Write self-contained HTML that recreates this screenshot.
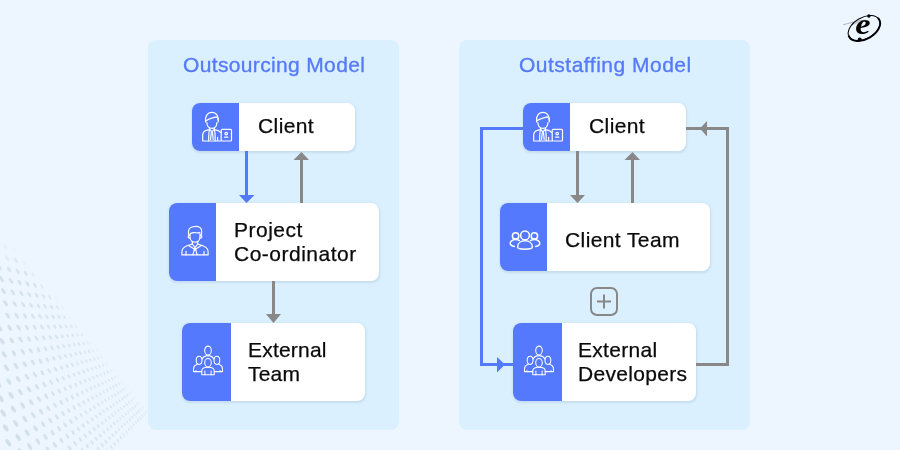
<!DOCTYPE html>
<html><head><meta charset="utf-8">
<style>
*{margin:0;padding:0;box-sizing:border-box}
html,body{width:900px;height:450px;overflow:hidden;background:#EDF6FE;font-family:"Liberation Sans",sans-serif}
.panel{position:absolute;background:#DAF0FF;border-radius:8px}
.box{position:absolute;background:#fff;border-radius:8px;box-shadow:0.5px 1.5px 2px rgba(30,60,100,0.08),0 0 4px rgba(30,60,100,0.06);overflow:hidden}
.box .blue{position:absolute;left:0;top:0;bottom:0;background:#5479FC}
.t{position:absolute;will-change:transform;font-size:21px;line-height:24px;color:#0A0A0A;-webkit-text-stroke:0.25px #0A0A0A;white-space:nowrap}
.title{position:absolute;will-change:transform;font-size:21px;line-height:24px;color:#567AF8;-webkit-text-stroke:0.35px #567AF8;white-space:nowrap}
svg{position:absolute;left:0;top:0}
</style></head><body>
<svg width="900" height="450" style="position:absolute;left:0;top:0"><!-- dots --><g fill="#CCDBE7"><ellipse cx="104.2" cy="454.7" rx="2.3" ry="1.1" transform="rotate(57 104.2 454.7)" opacity="0.62"/><ellipse cx="107.9" cy="451.0" rx="2.2" ry="1.0" transform="rotate(57 107.9 451.0)" opacity="0.60"/><ellipse cx="111.5" cy="447.4" rx="2.1" ry="1.0" transform="rotate(57 111.5 447.4)" opacity="0.59"/><ellipse cx="114.8" cy="444.0" rx="2.0" ry="1.0" transform="rotate(57 114.8 444.0)" opacity="0.58"/><ellipse cx="117.9" cy="440.8" rx="2.0" ry="0.9" transform="rotate(57 117.9 440.8)" opacity="0.57"/><ellipse cx="120.9" cy="437.8" rx="1.9" ry="0.9" transform="rotate(57 120.9 437.8)" opacity="0.56"/><ellipse cx="123.8" cy="434.9" rx="1.8" ry="0.8" transform="rotate(57 123.8 434.9)" opacity="0.55"/><ellipse cx="126.5" cy="432.2" rx="1.7" ry="0.8" transform="rotate(57 126.5 432.2)" opacity="0.54"/><ellipse cx="129.0" cy="429.5" rx="1.7" ry="0.8" transform="rotate(57 129.0 429.5)" opacity="0.53"/><ellipse cx="131.5" cy="427.1" rx="1.6" ry="0.8" transform="rotate(57 131.5 427.1)" opacity="0.52"/><ellipse cx="133.8" cy="424.7" rx="1.6" ry="0.8" transform="rotate(57 133.8 424.7)" opacity="0.51"/><ellipse cx="136.1" cy="422.4" rx="1.6" ry="0.8" transform="rotate(57 136.1 422.4)" opacity="0.51"/><ellipse cx="138.2" cy="420.2" rx="1.6" ry="0.8" transform="rotate(57 138.2 420.2)" opacity="0.50"/><ellipse cx="140.3" cy="418.1" rx="1.6" ry="0.8" transform="rotate(57 140.3 418.1)" opacity="0.49"/><ellipse cx="142.2" cy="416.1" rx="1.6" ry="0.8" transform="rotate(57 142.2 416.1)" opacity="0.49"/><ellipse cx="144.1" cy="414.2" rx="1.6" ry="0.8" transform="rotate(57 144.1 414.2)" opacity="0.40"/><ellipse cx="145.9" cy="412.4" rx="1.6" ry="0.8" transform="rotate(57 145.9 412.4)" opacity="0.24"/><ellipse cx="147.7" cy="410.6" rx="1.6" ry="0.8" transform="rotate(57 147.7 410.6)" opacity="0.09"/><ellipse cx="94.0" cy="452.7" rx="2.5" ry="1.2" transform="rotate(57 94.0 452.7)" opacity="0.64"/><ellipse cx="98.3" cy="448.8" rx="2.4" ry="1.1" transform="rotate(57 98.3 448.8)" opacity="0.62"/><ellipse cx="102.2" cy="445.1" rx="2.3" ry="1.1" transform="rotate(57 102.2 445.1)" opacity="0.61"/><ellipse cx="106.0" cy="441.6" rx="2.2" ry="1.0" transform="rotate(57 106.0 441.6)" opacity="0.60"/><ellipse cx="109.6" cy="438.3" rx="2.1" ry="1.0" transform="rotate(57 109.6 438.3)" opacity="0.58"/><ellipse cx="112.9" cy="435.2" rx="2.0" ry="0.9" transform="rotate(57 112.9 435.2)" opacity="0.57"/><ellipse cx="116.1" cy="432.2" rx="1.9" ry="0.9" transform="rotate(57 116.1 432.2)" opacity="0.56"/><ellipse cx="119.1" cy="429.4" rx="1.8" ry="0.9" transform="rotate(57 119.1 429.4)" opacity="0.55"/><ellipse cx="122.0" cy="426.7" rx="1.8" ry="0.8" transform="rotate(57 122.0 426.7)" opacity="0.54"/><ellipse cx="124.7" cy="424.2" rx="1.7" ry="0.8" transform="rotate(57 124.7 424.2)" opacity="0.53"/><ellipse cx="127.3" cy="421.8" rx="1.7" ry="0.8" transform="rotate(57 127.3 421.8)" opacity="0.53"/><ellipse cx="129.8" cy="419.5" rx="1.6" ry="0.8" transform="rotate(57 129.8 419.5)" opacity="0.52"/><ellipse cx="132.2" cy="417.3" rx="1.6" ry="0.8" transform="rotate(57 132.2 417.3)" opacity="0.51"/><ellipse cx="134.5" cy="415.2" rx="1.6" ry="0.8" transform="rotate(57 134.5 415.2)" opacity="0.50"/><ellipse cx="136.6" cy="413.2" rx="1.6" ry="0.8" transform="rotate(57 136.6 413.2)" opacity="0.50"/><ellipse cx="138.7" cy="411.2" rx="1.6" ry="0.8" transform="rotate(57 138.7 411.2)" opacity="0.49"/><ellipse cx="140.7" cy="409.4" rx="1.6" ry="0.8" transform="rotate(57 140.7 409.4)" opacity="0.37"/><ellipse cx="142.6" cy="407.6" rx="1.6" ry="0.8" transform="rotate(57 142.6 407.6)" opacity="0.21"/><ellipse cx="144.5" cy="405.9" rx="1.6" ry="0.8" transform="rotate(57 144.5 405.9)" opacity="0.06"/><ellipse cx="77.4" cy="454.8" rx="2.8" ry="1.3" transform="rotate(57 77.4 454.8)" opacity="0.68"/><ellipse cx="82.6" cy="450.4" rx="2.7" ry="1.3" transform="rotate(57 82.6 450.4)" opacity="0.67"/><ellipse cx="87.4" cy="446.3" rx="2.5" ry="1.2" transform="rotate(57 87.4 446.3)" opacity="0.65"/><ellipse cx="92.0" cy="442.5" rx="2.4" ry="1.1" transform="rotate(57 92.0 442.5)" opacity="0.63"/><ellipse cx="96.2" cy="438.9" rx="2.3" ry="1.1" transform="rotate(57 96.2 438.9)" opacity="0.62"/><ellipse cx="100.3" cy="435.5" rx="2.2" ry="1.0" transform="rotate(57 100.3 435.5)" opacity="0.60"/><ellipse cx="104.1" cy="432.3" rx="2.1" ry="1.0" transform="rotate(57 104.1 432.3)" opacity="0.59"/><ellipse cx="107.7" cy="429.3" rx="2.0" ry="1.0" transform="rotate(57 107.7 429.3)" opacity="0.58"/><ellipse cx="111.1" cy="426.4" rx="2.0" ry="0.9" transform="rotate(57 111.1 426.4)" opacity="0.57"/><ellipse cx="114.3" cy="423.7" rx="1.9" ry="0.9" transform="rotate(57 114.3 423.7)" opacity="0.56"/><ellipse cx="117.4" cy="421.1" rx="1.8" ry="0.9" transform="rotate(57 117.4 421.1)" opacity="0.55"/><ellipse cx="120.3" cy="418.6" rx="1.7" ry="0.8" transform="rotate(57 120.3 418.6)" opacity="0.54"/><ellipse cx="123.0" cy="416.3" rx="1.7" ry="0.8" transform="rotate(57 123.0 416.3)" opacity="0.53"/><ellipse cx="125.7" cy="414.1" rx="1.6" ry="0.8" transform="rotate(57 125.7 414.1)" opacity="0.52"/><ellipse cx="128.2" cy="412.0" rx="1.6" ry="0.8" transform="rotate(57 128.2 412.0)" opacity="0.51"/><ellipse cx="130.6" cy="409.9" rx="1.6" ry="0.8" transform="rotate(57 130.6 409.9)" opacity="0.51"/><ellipse cx="132.9" cy="408.0" rx="1.6" ry="0.8" transform="rotate(57 132.9 408.0)" opacity="0.50"/><ellipse cx="135.1" cy="406.2" rx="1.6" ry="0.8" transform="rotate(57 135.1 406.2)" opacity="0.49"/><ellipse cx="137.2" cy="404.4" rx="1.6" ry="0.8" transform="rotate(57 137.2 404.4)" opacity="0.35"/><ellipse cx="139.2" cy="402.7" rx="1.6" ry="0.8" transform="rotate(57 139.2 402.7)" opacity="0.19"/><ellipse cx="63.6" cy="452.4" rx="3.1" ry="1.4" transform="rotate(57 63.6 452.4)" opacity="0.72"/><ellipse cx="69.6" cy="447.8" rx="2.9" ry="1.4" transform="rotate(57 69.6 447.8)" opacity="0.70"/><ellipse cx="75.2" cy="443.6" rx="2.8" ry="1.3" transform="rotate(57 75.2 443.6)" opacity="0.68"/><ellipse cx="80.4" cy="439.6" rx="2.6" ry="1.2" transform="rotate(57 80.4 439.6)" opacity="0.66"/><ellipse cx="85.3" cy="435.9" rx="2.5" ry="1.2" transform="rotate(57 85.3 435.9)" opacity="0.64"/><ellipse cx="89.9" cy="432.4" rx="2.4" ry="1.1" transform="rotate(57 89.9 432.4)" opacity="0.63"/><ellipse cx="94.3" cy="429.1" rx="2.3" ry="1.1" transform="rotate(57 94.3 429.1)" opacity="0.61"/><ellipse cx="98.3" cy="426.0" rx="2.2" ry="1.0" transform="rotate(57 98.3 426.0)" opacity="0.60"/><ellipse cx="102.2" cy="423.1" rx="2.1" ry="1.0" transform="rotate(57 102.2 423.1)" opacity="0.59"/><ellipse cx="105.8" cy="420.3" rx="2.0" ry="0.9" transform="rotate(57 105.8 420.3)" opacity="0.57"/><ellipse cx="109.2" cy="417.7" rx="1.9" ry="0.9" transform="rotate(57 109.2 417.7)" opacity="0.56"/><ellipse cx="112.5" cy="415.2" rx="1.9" ry="0.9" transform="rotate(57 112.5 415.2)" opacity="0.55"/><ellipse cx="115.6" cy="412.8" rx="1.8" ry="0.8" transform="rotate(57 115.6 412.8)" opacity="0.54"/><ellipse cx="118.5" cy="410.6" rx="1.7" ry="0.8" transform="rotate(57 118.5 410.6)" opacity="0.53"/><ellipse cx="121.3" cy="408.5" rx="1.7" ry="0.8" transform="rotate(57 121.3 408.5)" opacity="0.53"/><ellipse cx="124.0" cy="406.4" rx="1.6" ry="0.8" transform="rotate(57 124.0 406.4)" opacity="0.52"/><ellipse cx="126.6" cy="404.5" rx="1.6" ry="0.8" transform="rotate(57 126.6 404.5)" opacity="0.51"/><ellipse cx="129.0" cy="402.7" rx="1.6" ry="0.8" transform="rotate(57 129.0 402.7)" opacity="0.50"/><ellipse cx="131.3" cy="400.9" rx="1.6" ry="0.8" transform="rotate(57 131.3 400.9)" opacity="0.50"/><ellipse cx="133.5" cy="399.2" rx="1.6" ry="0.8" transform="rotate(57 133.5 399.2)" opacity="0.32"/><ellipse cx="135.7" cy="397.6" rx="1.6" ry="0.8" transform="rotate(57 135.7 397.6)" opacity="0.16"/><ellipse cx="40.3" cy="454.8" rx="3.6" ry="1.7" transform="rotate(57 40.3 454.8)" opacity="0.79"/><ellipse cx="47.9" cy="449.6" rx="3.4" ry="1.6" transform="rotate(57 47.9 449.6)" opacity="0.76"/><ellipse cx="54.9" cy="444.9" rx="3.2" ry="1.5" transform="rotate(57 54.9 444.9)" opacity="0.73"/><ellipse cx="61.4" cy="440.4" rx="3.0" ry="1.4" transform="rotate(57 61.4 440.4)" opacity="0.71"/><ellipse cx="67.4" cy="436.3" rx="2.8" ry="1.3" transform="rotate(57 67.4 436.3)" opacity="0.69"/><ellipse cx="73.1" cy="432.5" rx="2.7" ry="1.3" transform="rotate(57 73.1 432.5)" opacity="0.67"/><ellipse cx="78.3" cy="428.9" rx="2.6" ry="1.2" transform="rotate(57 78.3 428.9)" opacity="0.65"/><ellipse cx="83.3" cy="425.5" rx="2.5" ry="1.2" transform="rotate(57 83.3 425.5)" opacity="0.64"/><ellipse cx="87.9" cy="422.3" rx="2.3" ry="1.1" transform="rotate(57 87.9 422.3)" opacity="0.62"/><ellipse cx="92.3" cy="419.4" rx="2.2" ry="1.1" transform="rotate(57 92.3 419.4)" opacity="0.61"/><ellipse cx="96.4" cy="416.5" rx="2.1" ry="1.0" transform="rotate(57 96.4 416.5)" opacity="0.59"/><ellipse cx="100.3" cy="413.9" rx="2.1" ry="1.0" transform="rotate(57 100.3 413.9)" opacity="0.58"/><ellipse cx="103.9" cy="411.4" rx="2.0" ry="0.9" transform="rotate(57 103.9 411.4)" opacity="0.57"/><ellipse cx="107.4" cy="409.0" rx="1.9" ry="0.9" transform="rotate(57 107.4 409.0)" opacity="0.56"/><ellipse cx="110.7" cy="406.8" rx="1.8" ry="0.9" transform="rotate(57 110.7 406.8)" opacity="0.55"/><ellipse cx="113.8" cy="404.6" rx="1.8" ry="0.8" transform="rotate(57 113.8 404.6)" opacity="0.54"/><ellipse cx="116.8" cy="402.6" rx="1.7" ry="0.8" transform="rotate(57 116.8 402.6)" opacity="0.53"/><ellipse cx="119.6" cy="400.7" rx="1.6" ry="0.8" transform="rotate(57 119.6 400.7)" opacity="0.52"/><ellipse cx="122.4" cy="398.8" rx="1.6" ry="0.8" transform="rotate(57 122.4 398.8)" opacity="0.51"/><ellipse cx="124.9" cy="397.1" rx="1.6" ry="0.8" transform="rotate(57 124.9 397.1)" opacity="0.51"/><ellipse cx="127.4" cy="395.4" rx="1.6" ry="0.8" transform="rotate(57 127.4 395.4)" opacity="0.48"/><ellipse cx="129.7" cy="393.8" rx="1.6" ry="0.8" transform="rotate(57 129.7 393.8)" opacity="0.30"/><ellipse cx="132.0" cy="392.3" rx="1.6" ry="0.8" transform="rotate(57 132.0 392.3)" opacity="0.13"/><ellipse cx="20.6" cy="451.9" rx="4.0" ry="1.9" transform="rotate(57 20.6 451.9)" opacity="0.84"/><ellipse cx="29.6" cy="446.5" rx="3.7" ry="1.7" transform="rotate(57 29.6 446.5)" opacity="0.81"/><ellipse cx="37.9" cy="441.5" rx="3.5" ry="1.6" transform="rotate(57 37.9 441.5)" opacity="0.78"/><ellipse cx="45.5" cy="436.9" rx="3.3" ry="1.5" transform="rotate(57 45.5 436.9)" opacity="0.75"/><ellipse cx="52.6" cy="432.6" rx="3.1" ry="1.5" transform="rotate(57 52.6 432.6)" opacity="0.73"/><ellipse cx="59.1" cy="428.6" rx="3.0" ry="1.4" transform="rotate(57 59.1 428.6)" opacity="0.70"/><ellipse cx="65.2" cy="424.9" rx="2.8" ry="1.3" transform="rotate(57 65.2 424.9)" opacity="0.68"/><ellipse cx="70.9" cy="421.5" rx="2.7" ry="1.2" transform="rotate(57 70.9 421.5)" opacity="0.66"/><ellipse cx="76.2" cy="418.2" rx="2.5" ry="1.2" transform="rotate(57 76.2 418.2)" opacity="0.65"/><ellipse cx="81.2" cy="415.2" rx="2.4" ry="1.1" transform="rotate(57 81.2 415.2)" opacity="0.63"/><ellipse cx="85.9" cy="412.4" rx="2.3" ry="1.1" transform="rotate(57 85.9 412.4)" opacity="0.62"/><ellipse cx="90.3" cy="409.7" rx="2.2" ry="1.0" transform="rotate(57 90.3 409.7)" opacity="0.60"/><ellipse cx="94.5" cy="407.2" rx="2.1" ry="1.0" transform="rotate(57 94.5 407.2)" opacity="0.59"/><ellipse cx="98.4" cy="404.8" rx="2.0" ry="0.9" transform="rotate(57 98.4 404.8)" opacity="0.58"/><ellipse cx="102.1" cy="402.6" rx="1.9" ry="0.9" transform="rotate(57 102.1 402.6)" opacity="0.57"/><ellipse cx="105.6" cy="400.4" rx="1.9" ry="0.9" transform="rotate(57 105.6 400.4)" opacity="0.55"/><ellipse cx="108.9" cy="398.4" rx="1.8" ry="0.8" transform="rotate(57 108.9 398.4)" opacity="0.55"/><ellipse cx="112.1" cy="396.5" rx="1.7" ry="0.8" transform="rotate(57 112.1 396.5)" opacity="0.54"/><ellipse cx="115.1" cy="394.7" rx="1.7" ry="0.8" transform="rotate(57 115.1 394.7)" opacity="0.53"/><ellipse cx="118.0" cy="392.9" rx="1.6" ry="0.8" transform="rotate(57 118.0 392.9)" opacity="0.52"/><ellipse cx="120.7" cy="391.3" rx="1.6" ry="0.8" transform="rotate(57 120.7 391.3)" opacity="0.51"/><ellipse cx="123.3" cy="389.7" rx="1.6" ry="0.8" transform="rotate(57 123.3 389.7)" opacity="0.45"/><ellipse cx="125.8" cy="388.2" rx="1.6" ry="0.8" transform="rotate(57 125.8 388.2)" opacity="0.27"/><ellipse cx="128.2" cy="386.7" rx="1.6" ry="0.8" transform="rotate(57 128.2 386.7)" opacity="0.09"/><ellipse cx="-2.5" cy="448.6" rx="4.2" ry="2.0" transform="rotate(57 -2.5 448.6)" opacity="0.91"/><ellipse cx="8.3" cy="442.8" rx="4.2" ry="1.9" transform="rotate(57 8.3 442.8)" opacity="0.87"/><ellipse cx="18.2" cy="437.5" rx="3.9" ry="1.8" transform="rotate(57 18.2 437.5)" opacity="0.83"/><ellipse cx="27.2" cy="432.7" rx="3.7" ry="1.7" transform="rotate(57 27.2 432.7)" opacity="0.80"/><ellipse cx="35.5" cy="428.3" rx="3.4" ry="1.6" transform="rotate(57 35.5 428.3)" opacity="0.77"/><ellipse cx="43.2" cy="424.2" rx="3.2" ry="1.5" transform="rotate(57 43.2 424.2)" opacity="0.74"/><ellipse cx="50.3" cy="420.4" rx="3.1" ry="1.4" transform="rotate(57 50.3 420.4)" opacity="0.72"/><ellipse cx="56.9" cy="416.9" rx="2.9" ry="1.4" transform="rotate(57 56.9 416.9)" opacity="0.70"/><ellipse cx="63.1" cy="413.6" rx="2.8" ry="1.3" transform="rotate(57 63.1 413.6)" opacity="0.68"/><ellipse cx="68.8" cy="410.6" rx="2.6" ry="1.2" transform="rotate(57 68.8 410.6)" opacity="0.66"/><ellipse cx="74.2" cy="407.7" rx="2.5" ry="1.2" transform="rotate(57 74.2 407.7)" opacity="0.64"/><ellipse cx="79.2" cy="405.0" rx="2.4" ry="1.1" transform="rotate(57 79.2 405.0)" opacity="0.62"/><ellipse cx="83.9" cy="402.5" rx="2.3" ry="1.1" transform="rotate(57 83.9 402.5)" opacity="0.61"/><ellipse cx="88.4" cy="400.1" rx="2.2" ry="1.0" transform="rotate(57 88.4 400.1)" opacity="0.60"/><ellipse cx="92.6" cy="397.9" rx="2.1" ry="1.0" transform="rotate(57 92.6 397.9)" opacity="0.58"/><ellipse cx="96.5" cy="395.8" rx="2.0" ry="0.9" transform="rotate(57 96.5 395.8)" opacity="0.57"/><ellipse cx="100.3" cy="393.8" rx="1.9" ry="0.9" transform="rotate(57 100.3 393.8)" opacity="0.56"/><ellipse cx="103.8" cy="391.9" rx="1.8" ry="0.9" transform="rotate(57 103.8 391.9)" opacity="0.55"/><ellipse cx="107.2" cy="390.1" rx="1.8" ry="0.8" transform="rotate(57 107.2 390.1)" opacity="0.54"/><ellipse cx="110.4" cy="388.4" rx="1.7" ry="0.8" transform="rotate(57 110.4 388.4)" opacity="0.53"/><ellipse cx="113.4" cy="386.8" rx="1.6" ry="0.8" transform="rotate(57 113.4 386.8)" opacity="0.52"/><ellipse cx="116.3" cy="385.2" rx="1.6" ry="0.8" transform="rotate(57 116.3 385.2)" opacity="0.52"/><ellipse cx="119.1" cy="383.8" rx="1.6" ry="0.8" transform="rotate(57 119.1 383.8)" opacity="0.42"/><ellipse cx="121.7" cy="382.4" rx="1.6" ry="0.8" transform="rotate(57 121.7 382.4)" opacity="0.24"/><ellipse cx="124.2" cy="381.0" rx="1.6" ry="0.8" transform="rotate(57 124.2 381.0)" opacity="0.06"/><ellipse cx="-5.1" cy="432.9" rx="4.2" ry="2.0" transform="rotate(57 -5.1 432.9)" opacity="0.90"/><ellipse cx="5.8" cy="427.9" rx="4.1" ry="1.9" transform="rotate(57 5.8 427.9)" opacity="0.86"/><ellipse cx="15.8" cy="423.3" rx="3.8" ry="1.8" transform="rotate(57 15.8 423.3)" opacity="0.82"/><ellipse cx="24.9" cy="419.1" rx="3.6" ry="1.7" transform="rotate(57 24.9 419.1)" opacity="0.79"/><ellipse cx="33.3" cy="415.2" rx="3.4" ry="1.6" transform="rotate(57 33.3 415.2)" opacity="0.76"/><ellipse cx="41.1" cy="411.6" rx="3.2" ry="1.5" transform="rotate(57 41.1 411.6)" opacity="0.74"/><ellipse cx="48.3" cy="408.3" rx="3.0" ry="1.4" transform="rotate(57 48.3 408.3)" opacity="0.71"/><ellipse cx="55.0" cy="405.2" rx="2.9" ry="1.3" transform="rotate(57 55.0 405.2)" opacity="0.69"/><ellipse cx="61.2" cy="402.3" rx="2.7" ry="1.3" transform="rotate(57 61.2 402.3)" opacity="0.67"/><ellipse cx="67.0" cy="399.6" rx="2.6" ry="1.2" transform="rotate(57 67.0 399.6)" opacity="0.65"/><ellipse cx="72.4" cy="397.1" rx="2.5" ry="1.2" transform="rotate(57 72.4 397.1)" opacity="0.64"/><ellipse cx="77.5" cy="394.8" rx="2.3" ry="1.1" transform="rotate(57 77.5 394.8)" opacity="0.62"/><ellipse cx="82.3" cy="392.6" rx="2.2" ry="1.0" transform="rotate(57 82.3 392.6)" opacity="0.61"/><ellipse cx="86.8" cy="390.5" rx="2.1" ry="1.0" transform="rotate(57 86.8 390.5)" opacity="0.59"/><ellipse cx="91.0" cy="388.5" rx="2.1" ry="1.0" transform="rotate(57 91.0 388.5)" opacity="0.58"/><ellipse cx="95.0" cy="386.7" rx="2.0" ry="0.9" transform="rotate(57 95.0 386.7)" opacity="0.57"/><ellipse cx="98.8" cy="384.9" rx="1.9" ry="0.9" transform="rotate(57 98.8 384.9)" opacity="0.56"/><ellipse cx="102.4" cy="383.3" rx="1.8" ry="0.9" transform="rotate(57 102.4 383.3)" opacity="0.55"/><ellipse cx="105.8" cy="381.7" rx="1.7" ry="0.8" transform="rotate(57 105.8 381.7)" opacity="0.54"/><ellipse cx="109.0" cy="380.2" rx="1.7" ry="0.8" transform="rotate(57 109.0 380.2)" opacity="0.53"/><ellipse cx="112.1" cy="378.8" rx="1.6" ry="0.8" transform="rotate(57 112.1 378.8)" opacity="0.52"/><ellipse cx="115.0" cy="377.4" rx="1.6" ry="0.8" transform="rotate(57 115.0 377.4)" opacity="0.37"/><ellipse cx="117.8" cy="376.2" rx="1.6" ry="0.8" transform="rotate(57 117.8 376.2)" opacity="0.18"/><ellipse cx="3.3" cy="413.2" rx="4.0" ry="1.9" transform="rotate(57 3.3 413.2)" opacity="0.85"/><ellipse cx="13.4" cy="409.2" rx="3.8" ry="1.8" transform="rotate(57 13.4 409.2)" opacity="0.82"/><ellipse cx="22.7" cy="405.6" rx="3.6" ry="1.7" transform="rotate(57 22.7 405.6)" opacity="0.79"/><ellipse cx="31.2" cy="402.2" rx="3.3" ry="1.6" transform="rotate(57 31.2 402.2)" opacity="0.76"/><ellipse cx="39.0" cy="399.1" rx="3.2" ry="1.5" transform="rotate(57 39.0 399.1)" opacity="0.73"/><ellipse cx="46.3" cy="396.3" rx="3.0" ry="1.4" transform="rotate(57 46.3 396.3)" opacity="0.71"/><ellipse cx="53.0" cy="393.6" rx="2.8" ry="1.3" transform="rotate(57 53.0 393.6)" opacity="0.69"/><ellipse cx="59.3" cy="391.1" rx="2.7" ry="1.3" transform="rotate(57 59.3 391.1)" opacity="0.67"/><ellipse cx="65.2" cy="388.8" rx="2.5" ry="1.2" transform="rotate(57 65.2 388.8)" opacity="0.65"/><ellipse cx="70.6" cy="386.7" rx="2.4" ry="1.1" transform="rotate(57 70.6 386.7)" opacity="0.63"/><ellipse cx="75.8" cy="384.7" rx="2.3" ry="1.1" transform="rotate(57 75.8 384.7)" opacity="0.62"/><ellipse cx="80.6" cy="382.8" rx="2.2" ry="1.0" transform="rotate(57 80.6 382.8)" opacity="0.60"/><ellipse cx="85.2" cy="381.0" rx="2.1" ry="1.0" transform="rotate(57 85.2 381.0)" opacity="0.59"/><ellipse cx="89.4" cy="379.3" rx="2.0" ry="0.9" transform="rotate(57 89.4 379.3)" opacity="0.58"/><ellipse cx="93.5" cy="377.7" rx="1.9" ry="0.9" transform="rotate(57 93.5 377.7)" opacity="0.57"/><ellipse cx="97.3" cy="376.2" rx="1.9" ry="0.9" transform="rotate(57 97.3 376.2)" opacity="0.56"/><ellipse cx="100.9" cy="374.8" rx="1.8" ry="0.8" transform="rotate(57 100.9 374.8)" opacity="0.55"/><ellipse cx="104.4" cy="373.4" rx="1.7" ry="0.8" transform="rotate(57 104.4 373.4)" opacity="0.54"/><ellipse cx="107.6" cy="372.1" rx="1.7" ry="0.8" transform="rotate(57 107.6 372.1)" opacity="0.53"/><ellipse cx="110.8" cy="370.9" rx="1.6" ry="0.8" transform="rotate(57 110.8 370.9)" opacity="0.32"/><ellipse cx="113.7" cy="369.7" rx="1.6" ry="0.8" transform="rotate(57 113.7 369.7)" opacity="0.12"/><ellipse cx="0.9" cy="398.6" rx="4.0" ry="1.9" transform="rotate(57 0.9 398.6)" opacity="0.85"/><ellipse cx="11.1" cy="395.3" rx="3.7" ry="1.8" transform="rotate(57 11.1 395.3)" opacity="0.81"/><ellipse cx="20.4" cy="392.2" rx="3.5" ry="1.6" transform="rotate(57 20.4 392.2)" opacity="0.78"/><ellipse cx="29.0" cy="389.4" rx="3.3" ry="1.6" transform="rotate(57 29.0 389.4)" opacity="0.75"/><ellipse cx="37.0" cy="386.8" rx="3.1" ry="1.5" transform="rotate(57 37.0 386.8)" opacity="0.73"/><ellipse cx="44.3" cy="384.4" rx="3.0" ry="1.4" transform="rotate(57 44.3 384.4)" opacity="0.70"/><ellipse cx="51.1" cy="382.2" rx="2.8" ry="1.3" transform="rotate(57 51.1 382.2)" opacity="0.68"/><ellipse cx="57.5" cy="380.1" rx="2.7" ry="1.2" transform="rotate(57 57.5 380.1)" opacity="0.66"/><ellipse cx="63.4" cy="378.2" rx="2.5" ry="1.2" transform="rotate(57 63.4 378.2)" opacity="0.64"/><ellipse cx="68.9" cy="376.4" rx="2.4" ry="1.1" transform="rotate(57 68.9 376.4)" opacity="0.63"/><ellipse cx="74.1" cy="374.7" rx="2.3" ry="1.1" transform="rotate(57 74.1 374.7)" opacity="0.61"/><ellipse cx="79.0" cy="373.1" rx="2.2" ry="1.0" transform="rotate(57 79.0 373.1)" opacity="0.60"/><ellipse cx="83.6" cy="371.6" rx="2.1" ry="1.0" transform="rotate(57 83.6 371.6)" opacity="0.59"/><ellipse cx="87.9" cy="370.1" rx="2.0" ry="0.9" transform="rotate(57 87.9 370.1)" opacity="0.57"/><ellipse cx="92.0" cy="368.8" rx="1.9" ry="0.9" transform="rotate(57 92.0 368.8)" opacity="0.56"/><ellipse cx="95.9" cy="367.5" rx="1.8" ry="0.9" transform="rotate(57 95.9 367.5)" opacity="0.55"/><ellipse cx="99.5" cy="366.3" rx="1.8" ry="0.8" transform="rotate(57 99.5 366.3)" opacity="0.54"/><ellipse cx="103.0" cy="365.2" rx="1.7" ry="0.8" transform="rotate(57 103.0 365.2)" opacity="0.49"/><ellipse cx="106.3" cy="364.1" rx="1.6" ry="0.8" transform="rotate(57 106.3 364.1)" opacity="0.27"/><ellipse cx="109.5" cy="363.1" rx="1.6" ry="0.8" transform="rotate(57 109.5 363.1)" opacity="0.06"/><ellipse cx="-1.5" cy="384.2" rx="4.0" ry="1.9" transform="rotate(57 -1.5 384.2)" opacity="0.84"/><ellipse cx="8.8" cy="381.5" rx="3.7" ry="1.7" transform="rotate(57 8.8 381.5)" opacity="0.81"/><ellipse cx="18.2" cy="379.1" rx="3.5" ry="1.6" transform="rotate(57 18.2 379.1)" opacity="0.78"/><ellipse cx="26.9" cy="376.8" rx="3.3" ry="1.5" transform="rotate(57 26.9 376.8)" opacity="0.75"/><ellipse cx="34.9" cy="374.7" rx="3.1" ry="1.4" transform="rotate(57 34.9 374.7)" opacity="0.72"/><ellipse cx="42.3" cy="372.7" rx="2.9" ry="1.4" transform="rotate(57 42.3 372.7)" opacity="0.70"/><ellipse cx="49.2" cy="370.9" rx="2.8" ry="1.3" transform="rotate(57 49.2 370.9)" opacity="0.68"/><ellipse cx="55.6" cy="369.2" rx="2.6" ry="1.2" transform="rotate(57 55.6 369.2)" opacity="0.66"/><ellipse cx="61.6" cy="367.6" rx="2.5" ry="1.2" transform="rotate(57 61.6 367.6)" opacity="0.64"/><ellipse cx="67.2" cy="366.2" rx="2.4" ry="1.1" transform="rotate(57 67.2 366.2)" opacity="0.63"/><ellipse cx="72.5" cy="364.8" rx="2.3" ry="1.1" transform="rotate(57 72.5 364.8)" opacity="0.61"/><ellipse cx="77.4" cy="363.5" rx="2.2" ry="1.0" transform="rotate(57 77.4 363.5)" opacity="0.60"/><ellipse cx="82.0" cy="362.3" rx="2.1" ry="1.0" transform="rotate(57 82.0 362.3)" opacity="0.58"/><ellipse cx="86.4" cy="361.1" rx="2.0" ry="0.9" transform="rotate(57 86.4 361.1)" opacity="0.57"/><ellipse cx="90.5" cy="360.0" rx="1.9" ry="0.9" transform="rotate(57 90.5 360.0)" opacity="0.56"/><ellipse cx="94.4" cy="359.0" rx="1.8" ry="0.9" transform="rotate(57 94.4 359.0)" opacity="0.55"/><ellipse cx="98.1" cy="358.0" rx="1.8" ry="0.8" transform="rotate(57 98.1 358.0)" opacity="0.44"/><ellipse cx="101.7" cy="357.1" rx="1.7" ry="0.8" transform="rotate(57 101.7 357.1)" opacity="0.21"/><ellipse cx="-3.9" cy="370.0" rx="3.9" ry="1.8" transform="rotate(57 -3.9 370.0)" opacity="0.84"/><ellipse cx="6.5" cy="367.9" rx="3.7" ry="1.7" transform="rotate(57 6.5 367.9)" opacity="0.80"/><ellipse cx="16.1" cy="366.0" rx="3.5" ry="1.6" transform="rotate(57 16.1 366.0)" opacity="0.77"/><ellipse cx="24.8" cy="364.3" rx="3.3" ry="1.5" transform="rotate(57 24.8 364.3)" opacity="0.74"/><ellipse cx="32.9" cy="362.6" rx="3.1" ry="1.4" transform="rotate(57 32.9 362.6)" opacity="0.72"/><ellipse cx="40.4" cy="361.1" rx="2.9" ry="1.4" transform="rotate(57 40.4 361.1)" opacity="0.70"/><ellipse cx="47.4" cy="359.7" rx="2.8" ry="1.3" transform="rotate(57 47.4 359.7)" opacity="0.68"/><ellipse cx="53.8" cy="358.4" rx="2.6" ry="1.2" transform="rotate(57 53.8 358.4)" opacity="0.66"/><ellipse cx="59.9" cy="357.2" rx="2.5" ry="1.2" transform="rotate(57 59.9 357.2)" opacity="0.64"/><ellipse cx="65.5" cy="356.1" rx="2.4" ry="1.1" transform="rotate(57 65.5 356.1)" opacity="0.62"/><ellipse cx="70.8" cy="355.0" rx="2.3" ry="1.1" transform="rotate(57 70.8 355.0)" opacity="0.61"/><ellipse cx="75.8" cy="354.0" rx="2.2" ry="1.0" transform="rotate(57 75.8 354.0)" opacity="0.59"/><ellipse cx="80.5" cy="353.1" rx="2.1" ry="1.0" transform="rotate(57 80.5 353.1)" opacity="0.58"/><ellipse cx="84.9" cy="352.2" rx="2.0" ry="0.9" transform="rotate(57 84.9 352.2)" opacity="0.57"/><ellipse cx="89.1" cy="351.3" rx="1.9" ry="0.9" transform="rotate(57 89.1 351.3)" opacity="0.56"/><ellipse cx="93.0" cy="350.6" rx="1.8" ry="0.9" transform="rotate(57 93.0 350.6)" opacity="0.39"/><ellipse cx="96.8" cy="349.8" rx="1.7" ry="0.8" transform="rotate(57 96.8 349.8)" opacity="0.16"/><ellipse cx="4.3" cy="354.5" rx="3.7" ry="1.7" transform="rotate(57 4.3 354.5)" opacity="0.80"/><ellipse cx="13.9" cy="353.2" rx="3.4" ry="1.6" transform="rotate(57 13.9 353.2)" opacity="0.77"/><ellipse cx="22.8" cy="351.9" rx="3.2" ry="1.5" transform="rotate(57 22.8 351.9)" opacity="0.74"/><ellipse cx="30.9" cy="350.8" rx="3.1" ry="1.4" transform="rotate(57 30.9 350.8)" opacity="0.72"/><ellipse cx="38.5" cy="349.7" rx="2.9" ry="1.4" transform="rotate(57 38.5 349.7)" opacity="0.69"/><ellipse cx="45.5" cy="348.7" rx="2.7" ry="1.3" transform="rotate(57 45.5 348.7)" opacity="0.67"/><ellipse cx="52.1" cy="347.8" rx="2.6" ry="1.2" transform="rotate(57 52.1 347.8)" opacity="0.66"/><ellipse cx="58.2" cy="346.9" rx="2.5" ry="1.2" transform="rotate(57 58.2 346.9)" opacity="0.64"/><ellipse cx="63.9" cy="346.1" rx="2.4" ry="1.1" transform="rotate(57 63.9 346.1)" opacity="0.62"/><ellipse cx="69.2" cy="345.4" rx="2.2" ry="1.1" transform="rotate(57 69.2 345.4)" opacity="0.61"/><ellipse cx="74.2" cy="344.7" rx="2.1" ry="1.0" transform="rotate(57 74.2 344.7)" opacity="0.59"/><ellipse cx="79.0" cy="344.0" rx="2.1" ry="1.0" transform="rotate(57 79.0 344.0)" opacity="0.58"/><ellipse cx="83.4" cy="343.4" rx="2.0" ry="0.9" transform="rotate(57 83.4 343.4)" opacity="0.57"/><ellipse cx="87.7" cy="342.8" rx="1.9" ry="0.9" transform="rotate(57 87.7 342.8)" opacity="0.35"/><ellipse cx="91.6" cy="342.2" rx="1.8" ry="0.8" transform="rotate(57 91.6 342.2)" opacity="0.11"/><ellipse cx="2.1" cy="341.3" rx="3.6" ry="1.7" transform="rotate(57 2.1 341.3)" opacity="0.80"/><ellipse cx="11.8" cy="340.5" rx="3.4" ry="1.6" transform="rotate(57 11.8 340.5)" opacity="0.77"/><ellipse cx="20.7" cy="339.7" rx="3.2" ry="1.5" transform="rotate(57 20.7 339.7)" opacity="0.74"/><ellipse cx="29.0" cy="339.0" rx="3.0" ry="1.4" transform="rotate(57 29.0 339.0)" opacity="0.72"/><ellipse cx="36.6" cy="338.4" rx="2.9" ry="1.3" transform="rotate(57 36.6 338.4)" opacity="0.69"/><ellipse cx="43.7" cy="337.8" rx="2.7" ry="1.3" transform="rotate(57 43.7 337.8)" opacity="0.67"/><ellipse cx="50.3" cy="337.3" rx="2.6" ry="1.2" transform="rotate(57 50.3 337.3)" opacity="0.65"/><ellipse cx="56.5" cy="336.8" rx="2.5" ry="1.2" transform="rotate(57 56.5 336.8)" opacity="0.64"/><ellipse cx="62.2" cy="336.3" rx="2.3" ry="1.1" transform="rotate(57 62.2 336.3)" opacity="0.62"/><ellipse cx="67.6" cy="335.8" rx="2.2" ry="1.0" transform="rotate(57 67.6 335.8)" opacity="0.61"/><ellipse cx="72.7" cy="335.4" rx="2.1" ry="1.0" transform="rotate(57 72.7 335.4)" opacity="0.59"/><ellipse cx="77.5" cy="335.0" rx="2.0" ry="1.0" transform="rotate(57 77.5 335.0)" opacity="0.57"/><ellipse cx="82.0" cy="334.7" rx="2.0" ry="0.9" transform="rotate(57 82.0 334.7)" opacity="0.30"/><ellipse cx="-0.1" cy="328.1" rx="3.6" ry="1.7" transform="rotate(57 -0.1 328.1)" opacity="0.80"/><ellipse cx="9.7" cy="327.9" rx="3.4" ry="1.6" transform="rotate(57 9.7 327.9)" opacity="0.77"/><ellipse cx="18.7" cy="327.7" rx="3.2" ry="1.5" transform="rotate(57 18.7 327.7)" opacity="0.74"/><ellipse cx="27.0" cy="327.4" rx="3.0" ry="1.4" transform="rotate(57 27.0 327.4)" opacity="0.71"/><ellipse cx="34.7" cy="327.2" rx="2.9" ry="1.3" transform="rotate(57 34.7 327.2)" opacity="0.69"/><ellipse cx="41.9" cy="327.0" rx="2.7" ry="1.3" transform="rotate(57 41.9 327.0)" opacity="0.67"/><ellipse cx="48.6" cy="326.9" rx="2.6" ry="1.2" transform="rotate(57 48.6 326.9)" opacity="0.65"/><ellipse cx="54.8" cy="326.7" rx="2.5" ry="1.2" transform="rotate(57 54.8 326.7)" opacity="0.64"/><ellipse cx="60.6" cy="326.6" rx="2.3" ry="1.1" transform="rotate(57 60.6 326.6)" opacity="0.62"/><ellipse cx="66.1" cy="326.4" rx="2.2" ry="1.0" transform="rotate(57 66.1 326.4)" opacity="0.61"/><ellipse cx="71.2" cy="326.3" rx="2.1" ry="1.0" transform="rotate(57 71.2 326.3)" opacity="0.54"/><ellipse cx="76.0" cy="326.2" rx="2.0" ry="1.0" transform="rotate(57 76.0 326.2)" opacity="0.25"/><ellipse cx="-2.3" cy="315.2" rx="3.6" ry="1.7" transform="rotate(57 -2.3 315.2)" opacity="0.80"/><ellipse cx="7.6" cy="315.5" rx="3.4" ry="1.6" transform="rotate(57 7.6 315.5)" opacity="0.77"/><ellipse cx="16.7" cy="315.7" rx="3.2" ry="1.5" transform="rotate(57 16.7 315.7)" opacity="0.74"/><ellipse cx="25.1" cy="316.0" rx="3.0" ry="1.4" transform="rotate(57 25.1 316.0)" opacity="0.71"/><ellipse cx="32.9" cy="316.2" rx="2.9" ry="1.3" transform="rotate(57 32.9 316.2)" opacity="0.69"/><ellipse cx="40.1" cy="316.4" rx="2.7" ry="1.3" transform="rotate(57 40.1 316.4)" opacity="0.67"/><ellipse cx="46.8" cy="316.6" rx="2.6" ry="1.2" transform="rotate(57 46.8 316.6)" opacity="0.65"/><ellipse cx="53.1" cy="316.8" rx="2.5" ry="1.2" transform="rotate(57 53.1 316.8)" opacity="0.64"/><ellipse cx="59.0" cy="316.9" rx="2.3" ry="1.1" transform="rotate(57 59.0 316.9)" opacity="0.62"/><ellipse cx="64.5" cy="317.1" rx="2.2" ry="1.0" transform="rotate(57 64.5 317.1)" opacity="0.50"/><ellipse cx="69.7" cy="317.3" rx="2.1" ry="1.0" transform="rotate(57 69.7 317.3)" opacity="0.20"/><ellipse cx="-4.4" cy="302.4" rx="3.6" ry="1.7" transform="rotate(57 -4.4 302.4)" opacity="0.80"/><ellipse cx="5.6" cy="303.2" rx="3.4" ry="1.6" transform="rotate(57 5.6 303.2)" opacity="0.77"/><ellipse cx="14.7" cy="304.0" rx="3.2" ry="1.5" transform="rotate(57 14.7 304.0)" opacity="0.74"/><ellipse cx="23.2" cy="304.6" rx="3.0" ry="1.4" transform="rotate(57 23.2 304.6)" opacity="0.71"/><ellipse cx="31.1" cy="305.3" rx="2.9" ry="1.3" transform="rotate(57 31.1 305.3)" opacity="0.69"/><ellipse cx="38.4" cy="305.9" rx="2.7" ry="1.3" transform="rotate(57 38.4 305.9)" opacity="0.67"/><ellipse cx="45.1" cy="306.4" rx="2.6" ry="1.2" transform="rotate(57 45.1 306.4)" opacity="0.65"/><ellipse cx="51.5" cy="307.0" rx="2.5" ry="1.2" transform="rotate(57 51.5 307.0)" opacity="0.64"/><ellipse cx="57.4" cy="307.4" rx="2.3" ry="1.1" transform="rotate(57 57.4 307.4)" opacity="0.46"/><ellipse cx="63.0" cy="307.9" rx="2.2" ry="1.0" transform="rotate(57 63.0 307.9)" opacity="0.15"/><ellipse cx="3.5" cy="291.1" rx="3.4" ry="1.6" transform="rotate(57 3.5 291.1)" opacity="0.77"/><ellipse cx="12.8" cy="292.3" rx="3.2" ry="1.5" transform="rotate(57 12.8 292.3)" opacity="0.74"/><ellipse cx="21.4" cy="293.4" rx="3.0" ry="1.4" transform="rotate(57 21.4 293.4)" opacity="0.72"/><ellipse cx="29.3" cy="294.5" rx="2.9" ry="1.3" transform="rotate(57 29.3 294.5)" opacity="0.69"/><ellipse cx="36.6" cy="295.5" rx="2.7" ry="1.3" transform="rotate(57 36.6 295.5)" opacity="0.67"/><ellipse cx="43.5" cy="296.4" rx="2.6" ry="1.2" transform="rotate(57 43.5 296.4)" opacity="0.65"/><ellipse cx="49.9" cy="297.3" rx="2.5" ry="1.2" transform="rotate(57 49.9 297.3)" opacity="0.43"/><ellipse cx="55.8" cy="298.1" rx="2.3" ry="1.1" transform="rotate(57 55.8 298.1)" opacity="0.10"/><ellipse cx="1.5" cy="279.1" rx="3.4" ry="1.6" transform="rotate(57 1.5 279.1)" opacity="0.77"/><ellipse cx="10.9" cy="280.8" rx="3.2" ry="1.5" transform="rotate(57 10.9 280.8)" opacity="0.74"/><ellipse cx="19.5" cy="282.4" rx="3.0" ry="1.4" transform="rotate(57 19.5 282.4)" opacity="0.72"/><ellipse cx="27.5" cy="283.8" rx="2.9" ry="1.4" transform="rotate(57 27.5 283.8)" opacity="0.69"/><ellipse cx="34.9" cy="285.2" rx="2.7" ry="1.3" transform="rotate(57 34.9 285.2)" opacity="0.67"/><ellipse cx="41.8" cy="286.5" rx="2.6" ry="1.2" transform="rotate(57 41.8 286.5)" opacity="0.39"/><ellipse cx="-0.5" cy="267.2" rx="3.4" ry="1.6" transform="rotate(57 -0.5 267.2)" opacity="0.56"/><ellipse cx="9.0" cy="269.4" rx="3.2" ry="1.5" transform="rotate(57 9.0 269.4)" opacity="0.58"/><ellipse cx="17.7" cy="271.4" rx="3.1" ry="1.4" transform="rotate(57 17.7 271.4)" opacity="0.60"/><ellipse cx="25.7" cy="273.3" rx="2.9" ry="1.4" transform="rotate(57 25.7 273.3)" opacity="0.61"/><ellipse cx="33.2" cy="275.0" rx="2.7" ry="1.3" transform="rotate(57 33.2 275.0)" opacity="0.32"/><ellipse cx="-2.4" cy="255.5" rx="3.5" ry="1.6" transform="rotate(57 -2.4 255.5)" opacity="0.34"/><ellipse cx="7.1" cy="258.2" rx="3.3" ry="1.5" transform="rotate(57 7.1 258.2)" opacity="0.38"/><ellipse cx="15.9" cy="260.6" rx="3.1" ry="1.4" transform="rotate(57 15.9 260.6)" opacity="0.41"/><ellipse cx="24.0" cy="262.9" rx="2.9" ry="1.4" transform="rotate(57 24.0 262.9)" opacity="0.19"/><ellipse cx="-4.4" cy="243.9" rx="3.5" ry="1.6" transform="rotate(57 -4.4 243.9)" opacity="0.11"/><ellipse cx="5.2" cy="247.0" rx="3.3" ry="1.5" transform="rotate(57 5.2 247.0)" opacity="0.17"/><ellipse cx="14.1" cy="249.9" rx="3.1" ry="1.4" transform="rotate(57 14.1 249.9)" opacity="0.08"/></g>
<!-- /dots --></svg>
<div class="panel" style="left:148px;top:40px;width:251px;height:390px"></div>
<div class="panel" style="left:459px;top:40px;width:291px;height:390px"></div>

<div class="title" style="left:183px;top:53px;letter-spacing:0.35px">Outsourcing Model</div>
<div class="title" style="left:519px;top:53px;letter-spacing:0.5px">Outstaffing Model</div>

<div class="box" style="left:192px;top:103px;width:163px;height:48px"><div class="blue" style="width:47px"></div></div>
<div class="box" style="left:169px;top:203px;width:210px;height:78px"><div class="blue" style="width:47px"></div></div>
<div class="box" style="left:182px;top:323px;width:183px;height:78px"><div class="blue" style="width:49px"></div></div>

<div class="box" style="left:523px;top:103px;width:163px;height:48px"><div class="blue" style="width:47px"></div></div>
<div class="box" style="left:500px;top:203px;width:210px;height:68px"><div class="blue" style="width:47px"></div></div>
<div class="box" style="left:513px;top:323px;width:183px;height:78px"><div class="blue" style="width:49px"></div></div>

<div class="t" style="left:258px;top:114px;letter-spacing:0.4px">Client</div>
<div class="t" style="left:234px;top:218px;letter-spacing:0.5px">Project<br>Co-ordinator</div>
<div class="t" style="left:248px;top:338px;letter-spacing:0.2px">External<br>Team</div>
<div class="t" style="left:589px;top:114px;letter-spacing:0.4px">Client</div>
<div class="t" style="left:565px;top:228px;letter-spacing:0.4px">Client Team</div>
<div class="t" style="left:578px;top:338px;letter-spacing:0.3px">External<br>Developers</div>

<svg width="900" height="450" viewBox="0 0 900 450">

<defs>
<g id="icClient" fill="none" stroke="#fff" stroke-width="1.2" stroke-linejoin="round" stroke-linecap="round">
 <path d="M6.6 13 C5.6 7.5 8.6 3.4 12.9 3.4 C17.2 3.4 20.2 7.5 19.2 13"/>
 <path d="M6.5 12 C8.5 10.8 10.5 9.6 12.6 9.1 C14.6 8.6 16.2 8 17.2 7.8 C18.6 8.6 19.4 9.8 19.5 11.4"/>
 <path d="M7.9 13.5 C8 17.6 10.3 19.4 12.9 19.4 C15.5 19.4 17.8 17.6 17.9 13.5"/>
 <path d="M10.5 19.2 V20.6 L7.4 21.3 C5 22 3.7 23.4 3.7 26 V32 H21.6"/>
 <path d="M15.4 19.2 V20.6 L18.5 21.3 C19.9 21.7 20.9 22.5 21.5 23.4"/>
 <path d="M10.5 20.8 C9.9 22.2 9.7 24 9.7 31.8 M15.4 20.8 C16 22.2 16.2 24 16.2 31.8"/>
 <path d="M11.2 21 L12.9 22.8 L14.6 21 M12.3 23.6 L11.6 30.4 M13.5 23.6 L14.2 30.4 M18.6 28.4 V31.4"/>
 <rect x="22.2" y="20.3" width="10.3" height="11.7" rx="1"/>
 <circle cx="27.2" cy="24.6" r="1.3"/>
 <path d="M25.6 28.2 H28.8"/>
</g>
<g id="icCoord" fill="none" stroke="#fff" stroke-width="1.15" stroke-linejoin="round" stroke-linecap="round">
 <path d="M11.6 12.8 C11 8.8 12.2 5.8 15 5 C17.8 4.2 20.8 4.2 22.6 5.2 C24.6 6.4 25 9.6 24.4 12.8"/>
 <path d="M13.2 11.8 C14.6 10.6 17 10.4 19.4 10.8 C21 11 22.2 10.8 22.8 10.4"/>
 <path d="M13 11.8 V15 C13 18 15.2 20.2 18 20.2 C20.8 20.2 23 18 23 15 V11.6"/>
 <path d="M12.8 13.4 C11.4 13.2 10.8 14.4 11.4 15.4 C11.8 16 12.4 16.2 13 16.1 M23.2 13.4 C24.6 13.2 25.2 14.4 24.6 15.4 C24.2 16 23.6 16.2 23 16.1"/>
 <path d="M15.3 19.4 V22 L10.2 23.8 C6.9 25 4.9 27 4.9 30 V32.9 H31.1 V30 C31.1 27 29.1 25 25.8 23.8 L20.7 22 V19.4"/>
 <path d="M11.6 23.6 L18 27.4 L24.4 23.6 M15.3 22 L18 25.6 L20.7 22 M17.2 28.2 L15.8 32.8 M18.8 28.2 L20.2 32.8 M9 29.4 V32.8 M27 29.4 V32.8"/>
 <circle cx="18" cy="27.3" r="1.0"/>
</g>
<g id="icTeam" fill="none" stroke="#fff" stroke-width="1.05" stroke-linejoin="round" stroke-linecap="round">
 <ellipse cx="19" cy="8.5" rx="3.3" ry="4.4"/>
 <path d="M13.2 17 C14.2 14.8 16.4 13.6 19 13.6 C21.6 13.6 23.8 14.8 24.8 17"/>
 <ellipse cx="10.1" cy="18.3" rx="2.9" ry="4.1"/>
 <ellipse cx="27.9" cy="18.3" rx="2.9" ry="4.1"/>
 <ellipse cx="19" cy="20.7" rx="3.3" ry="4.2"/>
 <path d="M8.2 22.2 C6 23 4.5 24.6 4.5 27 V29.6 H12.8"/>
 <path d="M29.8 22.2 C32 23 33.5 24.6 33.5 27 V29.6 H25.2"/>
 <path d="M12.8 32.8 V28.8 C12.8 26.6 15.6 25.3 19 25.3 C22.4 25.3 25.2 26.6 25.2 28.8 V32.8 Z"/>
 <path d="M15.9 29 V32.8 M22.1 29 V32.8 M6.9 28.6 V29.6 M31.1 28.6 V29.6"/>
</g>
<g id="icUsers" fill="none" stroke="#fff" stroke-width="1.5" stroke-linejoin="round" stroke-linecap="round">
 <circle cx="19" cy="16.4" r="4.4"/>
 <circle cx="9.6" cy="16.9" r="3.2"/>
 <circle cx="28.4" cy="16.9" r="3.2"/>
 <path d="M11.6 28 C11.6 24.2 14.8 21.8 19 21.8 C23.2 21.8 26.4 24.2 26.4 28 C26.4 29.7 24.6 30.2 19 30.2 C13.4 30.2 11.6 29.7 11.6 28 Z"/>
 <path d="M13.4 21.4 C11.4 20.6 7.6 20.4 5.6 21.8 C3.4 23.4 3.4 26.8 8.4 27.4"/>
 <path d="M24.6 21.4 C26.6 20.6 30.4 20.4 32.4 21.8 C34.6 23.4 34.6 26.8 29.6 27.4"/>
</g>
</defs>
<use href="#icClient" x="199" y="109"/>
<use href="#icClient" x="530" y="109"/>
<use href="#icCoord" x="177" y="222"/>
<use href="#icTeam" x="189" y="342"/>
<use href="#icTeam" x="520" y="342"/>
<use href="#icUsers" x="506" y="219"/>

<!-- left arrows -->
<g fill="#5479FC"><rect x="245" y="151" width="3" height="45"/><path d="M239 195 L254.5 195 L246.5 203 Z"/></g>
<g fill="#888"><rect x="300" y="159" width="3" height="44"/><path d="M293.5 160 L309 160 L301.5 152 Z"/>
<rect x="272" y="281" width="3" height="34"/><path d="M266 314 L281 314 L273.5 323 Z"/></g>
<!-- right arrows -->
<g fill="#888"><rect x="576" y="151" width="3" height="44"/><path d="M570 195 L585 195 L577.5 203 Z"/>
<rect x="631" y="159" width="3" height="44"/><path d="M624.5 160 L640 160 L632.5 152 Z"/>
<path d="M686 127 H729 V366 H696 V363 H726 V130 H686 Z"/><path d="M700 128.5 L707 121 L707 136.5 Z"/></g>
<g fill="#5479FC"><path d="M523 127 H480 V366 H513 V363 H483 V130 H523 Z"/><path d="M505 364.5 L497 357 L497 372.5 Z"/></g>

<!-- logo -->
<g>
 <path d="M843 24.8 C849 23.2 855 21.5 862 20.3" stroke="#8f98a2" stroke-width="0.7" fill="none"/>
 <path d="M852 24.5 C855 23.2 857 22.6 860 22" stroke="#a9b1ba" stroke-width="1.4" fill="none" opacity="0.6"/>
 <ellipse cx="864.1" cy="28.2" rx="17.3" ry="10.6" transform="rotate(-30 864.1 28.2)" fill="none" stroke="#000" stroke-width="1.0"/>
 <ellipse cx="864.3" cy="28.4" rx="17.3" ry="10.6" transform="rotate(-30 864.3 28.4)" fill="none" stroke="#000" stroke-width="1.9" stroke-dasharray="52 40" stroke-dashoffset="6"/>
 <circle cx="868.9" cy="16.0" r="1.7" fill="#000"/>
 <circle cx="859.7" cy="39.5" r="2.0" fill="#000"/>
 <text transform="translate(863.3 33.6) scale(1.15 1)" x="-7" y="0" font-family="Liberation Serif" font-weight="bold" font-style="italic" font-size="30" fill="#000">e</text>
</g>
<!-- plus -->
<rect x="591" y="288" width="26" height="27" rx="6" fill="none" stroke="#888" stroke-width="2"/>
<path d="M597 301.5 H611 M604 294.5 V308.5" stroke="#888" stroke-width="2"/>
</svg>
</body></html>
